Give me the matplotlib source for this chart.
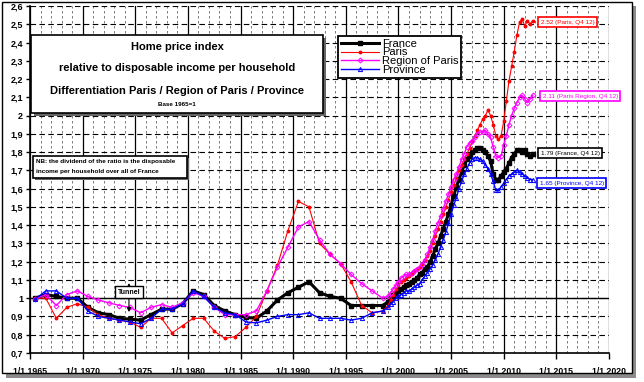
import matplotlib
matplotlib.use('Agg')
import matplotlib.pyplot as plt
from matplotlib.patches import Rectangle
from matplotlib.ticker import MultipleLocator, FuncFormatter

plt.rcParams['font.family'] = ['Liberation Sans', 'DejaVu Sans']

# annual points (mid-year) 1965 -> 1998
years_annual = [1965.5 + i for i in range(34)]
france_annual = [1.00, 1.02, 1.01, 1.00, 1.00, 0.95, 0.92, 0.91, 0.89, 0.885,
                 0.88, 0.91, 0.94, 0.94, 0.97, 1.04, 1.02, 0.96, 0.93, 0.91,
                 0.895, 0.89, 0.93, 0.99, 1.03, 1.06, 1.09, 1.03, 1.01, 1.00,
                 0.96, 0.96, 0.96, 0.96]
paris_annual = [1.00, 1.00, 0.89, 0.95, 0.97, 0.95, 0.91, 0.89, 0.88, 0.87,
                0.84, 0.89, 0.89, 0.81, 0.85, 0.89, 0.89, 0.82, 0.78, 0.79,
                0.84, 0.90, 1.04, 1.18, 1.37, 1.53, 1.50, 1.30, 1.24, 1.19,
                1.09, 0.96, 0.92, 0.93]
region_annual = [0.995, 1.02, 0.96, 1.02, 1.04, 1.01, 0.99, 0.975, 0.96, 0.95,
                 0.92, 0.95, 0.965, 0.95, 0.975, 1.03, 1.01, 0.95, 0.91, 0.91,
                 0.91, 0.93, 1.04, 1.17, 1.28, 1.39, 1.42, 1.32, 1.24, 1.19,
                 1.13, 1.08, 1.04, 1.00]
province_annual = [0.995, 1.04, 1.04, 1.00, 1.00, 0.93, 0.90, 0.89, 0.88, 0.87,
                   0.86, 0.89, 0.94, 0.94, 0.97, 1.04, 1.01, 0.95, 0.92, 0.91,
                   0.87, 0.865, 0.88, 0.90, 0.91, 0.91, 0.92, 0.89, 0.89, 0.89,
                   0.88, 0.89, 0.92, 0.93]

# quarterly points Q1 1999 -> Q4 2012
quarters = [1999 + 0.25 * i for i in range(56)]
france_q = [0.98, 1.00, 1.02, 1.03, 1.04, 1.05, 1.06, 1.07, 1.08, 1.09, 1.10, 1.11,
            1.13, 1.14, 1.16, 1.17, 1.20, 1.23, 1.27, 1.30, 1.34, 1.38, 1.42, 1.46,
            1.51, 1.56, 1.61, 1.65, 1.69, 1.73, 1.76, 1.78, 1.80, 1.81, 1.82, 1.82,
            1.81, 1.80, 1.78, 1.75, 1.68, 1.65, 1.65, 1.67, 1.69, 1.71, 1.74, 1.77,
            1.79, 1.81, 1.81, 1.80, 1.81, 1.79, 1.78, 1.79]
paris_q = [0.96, 0.99, 1.02, 1.05, 1.07, 1.09, 1.10, 1.11, 1.12, 1.13, 1.15, 1.16,
           1.17, 1.19, 1.21, 1.23, 1.26, 1.30, 1.34, 1.38, 1.42, 1.46, 1.50, 1.54,
           1.58, 1.62, 1.66, 1.70, 1.73, 1.76, 1.79, 1.82, 1.86, 1.89, 1.92, 1.95,
           1.98, 2.00, 2.03, 2.00, 1.95, 1.89, 1.87, 1.89, 1.97, 2.08, 2.19, 2.27,
           2.35, 2.44, 2.51, 2.53, 2.49, 2.52, 2.50, 2.52]
region_q = [1.01, 1.03, 1.05, 1.07, 1.09, 1.11, 1.12, 1.13, 1.13, 1.14, 1.15, 1.16,
            1.17, 1.19, 1.21, 1.24, 1.28, 1.32, 1.37, 1.41, 1.45, 1.49, 1.53, 1.57,
            1.61, 1.65, 1.68, 1.72, 1.76, 1.79, 1.83, 1.85, 1.86, 1.88, 1.90, 1.91,
            1.91, 1.92, 1.90, 1.88, 1.83, 1.78, 1.77, 1.78, 1.84, 1.89, 1.95, 2.00,
            2.04, 2.07, 2.10, 2.11, 2.09, 2.07, 2.09, 2.11]
province_q = [0.95, 0.97, 0.98, 1.00, 1.01, 1.02, 1.03, 1.04, 1.04, 1.05, 1.06, 1.07,
              1.08, 1.10, 1.12, 1.14, 1.16, 1.18, 1.21, 1.24, 1.28, 1.32, 1.36, 1.41,
              1.46, 1.51, 1.55, 1.60, 1.64, 1.68, 1.71, 1.74, 1.76, 1.77, 1.77, 1.76,
              1.75, 1.73, 1.71, 1.68, 1.64, 1.59, 1.59, 1.61, 1.63, 1.65, 1.67, 1.68,
              1.69, 1.70, 1.69, 1.68, 1.67, 1.66, 1.65, 1.65]

x = years_annual + quarters
france = france_annual + france_q
paris = paris_annual + paris_q
region = region_annual + region_q
province = province_annual + province_q

last_labels = ['2.52 (Paris, Q4 12)', '2.11 (Paris Region, Q4 12)',
               '1.79 (France, Q4 12)', '1.65 (Province, Q4 12)']

W, H = 644, 382
fig = plt.figure(figsize=(W / 100, H / 100), dpi=100)

def px(x0, y0, w, h):
    return (x0 / W, 1 - (y0 + h) / H, w / W, h / H)

# picture frame with shadow
x0, y0, w, h = px(6, 6, 630, 372)
fig.patches.append(Rectangle((x0, y0), w, h, transform=fig.transFigure,
                             facecolor='#8c8c8c', edgecolor='none', zorder=-3))
x0, y0, w, h = px(2, 2, 630, 371)
fig.patches.append(Rectangle((x0, y0), w, h, transform=fig.transFigure,
                             facecolor='white', edgecolor='black', lw=1, zorder=-2))

ax = fig.add_axes(px(30, 6, 579, 347))
ax.set_facecolor('none')

ax.plot(x, france, color='black', lw=2.2, marker='s', ms=3, label='France')
ax.plot(x, paris, color='red', lw=0.8, marker='o', ms=1.8, label='Paris')
ax.plot(x, region, color='magenta', lw=1.0, marker='D', ms=2.5, mfc='none',
        mew=0.7, label='Region of Paris')
ax.plot(x, province, color='blue', lw=1.0, marker='^', ms=3, mfc='none',
        mew=0.7, label='Province')

ax.set_xlim(1965, 2020)
ax.set_ylim(0.7, 2.6)
ax.xaxis.set_major_locator(MultipleLocator(5))
ax.xaxis.set_minor_locator(MultipleLocator(1))
ax.yaxis.set_major_locator(MultipleLocator(0.1))


def yfmt(v, pos):
    s = '%.1f' % v
    if s.endswith('.0'):
        s = s[:-2]
    return s.replace('.', ',')


ax.yaxis.set_major_formatter(FuncFormatter(yfmt))
ax.xaxis.set_major_formatter(FuncFormatter(lambda v, pos: '1/1 %d' % round(v)))

ax.grid(which='major', axis='x', color='black', lw=0.9, ls='-')
ax.grid(which='minor', axis='x', color='#666666', lw=0.6, ls=(0, (3, 3)))
ax.grid(which='major', axis='y', color='black', lw=0.8, ls=(0, (5, 3)))
ax.axhline(1.0, color='black', lw=1.0, zorder=1)
ax.set_axisbelow(True)

for s in ['top', 'right']:
    ax.spines[s].set_visible(False)
ax.spines['left'].set_linewidth(1.2)
ax.spines['bottom'].set_linewidth(1.2)
ax.tick_params(axis='y', length=3, width=1, pad=2, labelsize=6.5)
ax.tick_params(axis='x', which='major', length=4, width=1, pad=6, labelsize=6.3)
ax.tick_params(axis='x', which='minor', length=0)
for lab in ax.get_xticklabels() + ax.get_yticklabels():
    lab.set_fontweight('bold')

# title box
x0, y0, w, h = px(34, 38, 292, 78)
fig.patches.append(Rectangle((x0, y0), w, h, transform=fig.transFigure,
                             facecolor='#666666', edgecolor='none', zorder=1))
x0, y0, w, h = px(31, 35, 292, 78)
fig.patches.append(Rectangle((x0, y0), w, h, transform=fig.transFigure,
                             facecolor='white', edgecolor='black', lw=1.2, zorder=2))
cx = 177 / W
fig.text(cx, 1 - 47 / H, 'Home price index', ha='center', va='center',
         fontsize=8, fontweight='bold', zorder=3)
fig.text(cx, 1 - 68 / H, 'relative to disposable income per household', ha='center',
         va='center', fontsize=8, fontweight='bold', zorder=3)
fig.text(cx, 1 - 91 / H, 'Differentiation Paris / Region of Paris / Province',
         ha='center', va='center', fontsize=8, fontweight='bold', zorder=3)
fig.text(cx, 1 - 104 / H, 'Base 1965=1', ha='center', va='center',
         fontsize=4.5, fontweight='bold', zorder=3)

# note box
x0, y0, w, h = px(35, 158, 154, 22)
fig.patches.append(Rectangle((x0, y0), w, h, transform=fig.transFigure,
                             facecolor='#666666', edgecolor='none', zorder=1))
x0, y0, w, h = px(33, 156, 154, 22)
fig.patches.append(Rectangle((x0, y0), w, h, transform=fig.transFigure,
                             facecolor='white', edgecolor='black', lw=1.2, zorder=2))
fig.text(36 / W, 1 - 162 / H, 'NB: the dividend of the ratio is the disposable',
         ha='left', va='center', fontsize=4.6, fontweight='bold', zorder=3)
fig.text(36 / W, 1 - 172 / H, 'income per household over all of France',
         ha='left', va='center', fontsize=4.6, fontweight='bold', zorder=3)

# legend
leg = ax.legend(loc='upper left', bbox_to_anchor=(338 / W, 1 - 36 / H),
                bbox_transform=fig.transFigure, borderaxespad=0, fontsize=8,
                labelspacing=-0.12, borderpad=0.25, handlelength=3.4,
                handletextpad=0.3, fancybox=False, framealpha=1)
leg.get_frame().set_edgecolor('black')
leg.get_frame().set_linewidth(1.3)

# tunnel marker
ax.annotate('', xy=(1974.4, 1.083), xytext=(1974.4, 0.924),
            arrowprops=dict(arrowstyle='<|-|>', color='black', lw=0.8,
                            mutation_scale=6, shrinkA=0, shrinkB=0))
ax.text(1974.4, 1.034, 'Tunnel', ha='center', va='center', fontsize=5,
        fontweight='bold', bbox=dict(boxstyle='square,pad=0.35', fc='white',
                                     ec='black', lw=1))

# last value labels
label_x = [2013.5, 2013.7, 2013.5, 2013.4]
label_y = [2.51, 2.106, 1.794, 1.63]
label_c = ['red', 'magenta', 'black', 'blue']
for lx, ly, s, c in zip(label_x, label_y, last_labels, label_c):
    ax.text(lx, ly, s, color=c, fontsize=4.6, ha='left', va='center',
            bbox=dict(boxstyle='square,pad=0.4', fc='white', ec=c, lw=1.2))

fig.savefig('out.png', dpi=100)
